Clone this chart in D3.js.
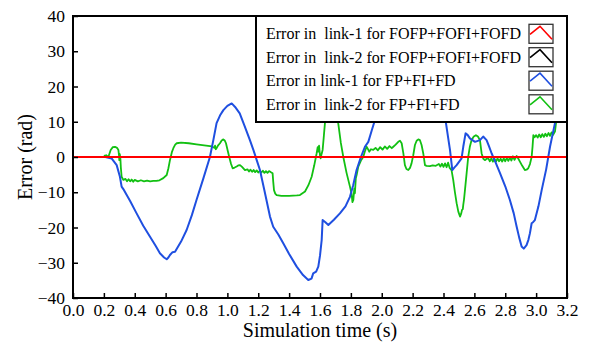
<!DOCTYPE html>
<html>
<head>
<meta charset="utf-8">
<script src="https://cdn.jsdelivr.net/npm/d3@7"></script>
<style>
  html, body { margin: 0; padding: 0; background: #fff; }
  svg text { font-family: "Liberation Serif", Tinos, "Times New Roman", Times, "DejaVu Serif", serif; }
</style>
</head>
<body>
<svg id="chart" width="592" height="347"></svg>
<script>
// Axis ticks
const xTicks = [0.0, 0.2, 0.4, 0.6, 0.8, 1.0, 1.2, 1.4, 1.6, 1.8, 2.0, 2.2, 2.4, 2.6, 2.8, 3.0, 3.2];
const yTicks = [-40, -30, -20, -10, 0, 10, 20, 30, 40];

// Legend entries
const seriesNames = [
  "Error in  link-1 for FOFP+FOFI+FOFD",
  "Error in  link-2 for FOFP+FOFI+FOFD",
  "Error in link-1 for FP+FI+FD",
  "Error in  link-2 for FP+FI+FD"
];
const seriesColors = ["#ff0000", "#000000", "#1f4fe0", "#12c012"];

// FOFP+FOFI+FOFD errors (both links stay on zero)
const fofTime = [0.0, 0.4, 0.8, 1.2, 1.6, 2.0, 2.4, 2.8, 3.2];
const fofLink1Err = [0, 0, 0, 0, 0, 0, 0, 0, 0];
const fofLink2Err = [0, 0, 0, 0, 0, 0, 0, 0, 0];

// FP+FI+FD, link-1
const fpLink1Time = [0.21, 0.25, 0.283, 0.304, 0.315, 0.326, 0.37, 0.412, 0.455, 0.499, 0.535, 0.563, 0.59, 0.607, 0.618, 0.628, 0.645, 0.661, 0.70, 0.736, 0.77, 0.80, 0.845, 0.887, 0.91, 0.93, 0.955, 0.974, 1.0, 1.028, 1.05, 1.08, 1.11, 1.146, 1.17, 1.19, 1.211, 1.24, 1.276, 1.297, 1.33, 1.362, 1.40, 1.449, 1.49, 1.524, 1.545, 1.556, 1.575, 1.589, 1.60, 1.611, 1.617, 1.635, 1.654, 1.69, 1.729, 1.765, 1.794, 1.815, 1.837, 1.865, 1.891, 1.913, 1.935, 1.956, 1.98, 2.05, 2.15, 2.25, 2.35, 2.40, 2.416, 2.43, 2.442, 2.457, 2.47, 2.485, 2.517, 2.528, 2.543, 2.557, 2.571, 2.604, 2.636, 2.657, 2.679, 2.695, 2.712, 2.74, 2.766, 2.80, 2.83, 2.855, 2.874, 2.89, 2.906, 2.92, 2.938, 2.95, 2.96, 2.971, 2.98, 2.992, 3.015, 3.036, 3.065, 3.09, 3.122, 3.15];
const fpLink1Err = [0, -0.4, -2.3, -5.6, -8.4, -9.1, -12.5, -16, -19.5, -22.6, -25.2, -27.3, -28.5, -29, -28.5, -27.8, -27, -26.9, -24, -20.7, -16.5, -12.2, -6, 0, 5, 9.6, 12, 13.3, 14.5, 15.2, 14.2, 12.4, 9, 4.8, 1.8, -0.9, -3.7, -9.5, -16.9, -19.8, -22, -24.5, -27.5, -31.1, -33.5, -34.9, -34.5, -33, -32.5, -31.1, -28, -23.5, -17.9, -18.5, -19.3, -17.8, -16, -14, -11.3, -8, -3.7, 0, 2.9, 4.3, 7.5, 10.5, 15, 26, 33, 32, 22, 13, 9.6, 5.5, 2, -3.7, -3, -2.3, -0.4, 2.9, 6.7, 6.2, 5.3, 4.3, 4.8, 5.8, 4.8, 3, 1, -1.8, -4.6, -8.3, -12.2, -16, -19.8, -22.8, -25.4, -26, -25, -23.5, -21.6, -18.8, -18.5, -17.9, -14, -9.4, -3.5, 2.9, 9.6, 16];

// FP+FI+FD, link-2
const fpLink2Time = [0.20, 0.215, 0.229, 0.244, 0.258, 0.272, 0.285, 0.294, 0.298, 0.30, 0.303, 0.307, 0.31, 0.315, 0.326, 0.34, 0.35, 0.36, 0.37, 0.38, 0.39, 0.40, 0.42, 0.44, 0.46, 0.48, 0.50, 0.52, 0.54, 0.56, 0.585, 0.607, 0.618, 0.628, 0.64, 0.65, 0.662, 0.672, 0.70, 0.75, 0.80, 0.85, 0.90, 0.915, 0.92, 0.925, 0.93, 0.94, 0.952, 0.963, 0.974, 0.984, 0.991, 1.0, 1.012, 1.024, 1.034, 1.047, 1.06, 1.07, 1.082, 1.095, 1.114, 1.13, 1.14, 1.15, 1.16, 1.17, 1.18, 1.19, 1.20, 1.21, 1.22, 1.23, 1.24, 1.25, 1.26, 1.27, 1.285, 1.293, 1.297, 1.302, 1.31, 1.319, 1.35, 1.40, 1.45, 1.47, 1.503, 1.525, 1.546, 1.562, 1.578, 1.585, 1.589, 1.594, 1.60, 1.604, 1.61, 1.617, 1.625, 1.632, 1.645, 1.66, 1.68, 1.70, 1.718, 1.735, 1.751, 1.772, 1.794, 1.805, 1.81, 1.816, 1.822, 1.826, 1.832, 1.838, 1.848, 1.865, 1.88, 1.89, 1.902, 1.91, 1.919, 1.93, 1.945, 1.96, 1.975, 1.99, 2.005, 2.02, 2.035, 2.05, 2.065, 2.075, 2.09, 2.107, 2.118, 2.129, 2.14, 2.15, 2.16, 2.172, 2.183, 2.193, 2.204, 2.215, 2.226, 2.237, 2.247, 2.258, 2.269, 2.28, 2.29, 2.312, 2.33, 2.35, 2.37, 2.38, 2.39, 2.40, 2.41, 2.42, 2.43, 2.44, 2.452, 2.463, 2.474, 2.485, 2.496, 2.507, 2.515, 2.52, 2.525, 2.528, 2.533, 2.539, 2.55, 2.56, 2.571, 2.582, 2.596, 2.61, 2.623, 2.636, 2.647, 2.658, 2.668, 2.68, 2.69, 2.70, 2.71, 2.72, 2.73, 2.74, 2.75, 2.76, 2.77, 2.78, 2.79, 2.80, 2.81, 2.82, 2.83, 2.84, 2.85, 2.86, 2.874, 2.885, 2.895, 2.91, 2.927, 2.938, 2.949, 2.96, 2.971, 2.977, 2.982, 2.99, 3.0, 3.01, 3.02, 3.03, 3.04, 3.05, 3.06, 3.07, 3.08, 3.09, 3.10, 3.11, 3.122, 3.13, 3.14];
const fpLink2Err = [0.3, 0.5, 0, 2, 2.8, 2.9, 2.6, 2, 0.5, -0.9, 0.8, -0.5, -3, -5.6, -6.5, -6.2, -6.9, -6.3, -6.9, -6.4, -7.0, -6.5, -6.9, -6.6, -6.9, -6.7, -6.9, -6.8, -6.8, -6.6, -6, -5.1, -3.2, -0.9, 1.3, 2.5, 3.5, 3.9, 4.1, 3.9, 3.6, 3.3, 3.0, 2.6, 3.2, 2.2, 2.5, 3.3, 3.9, 4.7, 5, 4.6, 3.9, 2.2, 0, -2, -3.2, -3.0, -2.7, -2.4, -2.3, -2.8, -3.7, -3.5, -4.1, -3.6, -4.2, -3.7, -4.3, -3.8, -4.4, -3.9, -4.4, -3.9, -4.5, -4.0, -4.5, -4.0, -4.4, -4.6, -7, -9.4, -10.4, -10.8, -11.0, -11.0, -10.9, -10.8, -9.8, -8, -5.6, -2.5, 1, 2.8, 1.5, 3.2, 0.5, -0.4, 0.8, 2, 6, 9.6, 16, 20, 21, 17, 9.6, 4, 0, -4.5, -8.4, -10.5, -12.8, -12.2, -9, -10.3, -6, -5, -2.7, -1, 0, 1.5, 2.9, 2.3, 1.5, 2.2, 2, 2.6, 1.9, 2.8, 2.1, 3.0, 2.3, 3.1, 2.5, 2.9, 3.5, 4.3, 4.6, 3.9, 1, -2.3, -3.4, -3.7, -3.1, -1.8, 0.5, 3.4, 4.6, 5, 4.8, 3.4, 1, -2.3, -2.5, -2.6, -2.4, -2.5, -2.0, -2.7, -1.9, -2.8, -1.8, -2.9, -1.6, -3.1, -3.7, -6.5, -10, -13.1, -15.5, -16.9, -16, -15, -14.8, -13.6, -12, -9.4, -4.5, 0, 3, 4.8, 5.8, 6.2, 5.8, 4.8, 1, -0.5, -0.9, -0.5, -0.4, -1.2, -0.4, -1.3, -0.5, -1.3, -0.4, -1.2, -0.5, -1.3, -0.4, -1.2, -0.3, -1.1, -0.2, -1.0, 0.2, -0.8, 0.3, -0.5, -1.3, -2.5, -3.7, -3.6, -3.2, -2, 0, 3, 6.2, 5.6, 6.2, 5.5, 6.4, 5.6, 6.5, 5.7, 6.6, 5.9, 6.8, 6.0, 7.0, 6.3, 7.2, 10, 14];

const serifStack = "'Liberation Serif', Tinos, 'Times New Roman', Times, 'DejaVu Serif', serif";

const svg = d3.select("#chart");
const margin = { left: 73, top: 16, right: 25, bottom: 49 };
const W = 592, H = 347;
const plotW = W - margin.left - margin.right;
const plotH = H - margin.top - margin.bottom;

const x = d3.scaleLinear().domain([0, 3.2]).range([margin.left, margin.left + plotW]);
const y = d3.scaleLinear().domain([-40, 40]).range([margin.top + plotH, margin.top]);

svg.append("defs").append("clipPath").attr("id", "plotClip")
  .append("rect")
  .attr("x", margin.left).attr("y", margin.top)
  .attr("width", plotW).attr("height", plotH);

const zip = (ts, vs) => ts.map((t, i) => [t, vs[i]]);
const line = d3.line().x(d => x(d[0])).y(d => y(d[1]));

const series = [
  { data: zip(fpLink2Time, fpLink2Err), color: seriesColors[3], width: 1.8 },
  { data: zip(fpLink1Time, fpLink1Err), color: seriesColors[2], width: 2 },
  { data: zip(fofTime, fofLink2Err), color: seriesColors[1], width: 2.2 },
  { data: zip(fofTime, fofLink1Err), color: seriesColors[0], width: 2.2 }
];

const lines = svg.append("g").attr("clip-path", "url(#plotClip)");
series.forEach(s => {
  lines.append("path")
    .datum(s.data)
    .attr("fill", "none")
    .attr("stroke", s.color)
    .attr("stroke-width", s.width)
    .attr("stroke-linejoin", "round")
    .attr("d", line);
});

// Axes with inward ticks
const xAxis = svg.append("g")
  .attr("transform", `translate(0,${margin.top + plotH})`)
  .call(d3.axisBottom(x).tickValues(xTicks).tickFormat(d3.format(".1f")).tickSize(-5).tickPadding(6));
const yAxis = svg.append("g")
  .attr("transform", `translate(${margin.left},0)`)
  .call(d3.axisLeft(y).tickValues(yTicks).tickSize(-5).tickPadding(8));

[xAxis, yAxis].forEach(g => {
  g.attr("font-family", null);
  g.select(".domain").remove();
  g.selectAll(".tick line").attr("stroke", "#000").attr("stroke-width", 1.5);
  g.selectAll(".tick text")
    .style("font-family", serifStack)
    .attr("font-size", 17.5)
    .attr("fill", "#000");
});

// Plot frame
svg.append("rect")
  .attr("x", margin.left).attr("y", margin.top)
  .attr("width", plotW).attr("height", plotH)
  .attr("fill", "none").attr("stroke", "#000").attr("stroke-width", 2);

// Axis titles
svg.append("text")
  .attr("x", margin.left + plotW / 2).attr("y", 337)
  .attr("text-anchor", "middle")
  .style("font-family", serifStack)
  .attr("font-size", 20)
  .text("Simulation time (s)");
svg.append("text")
  .attr("transform", `translate(32,${margin.top + plotH / 2}) rotate(-90)`)
  .attr("text-anchor", "middle")
  .style("font-family", serifStack)
  .attr("font-size", 20)
  .text("Error (rad)");

// Legend
const legX = 256, legRight = margin.left + plotW, legTop = margin.top, legBottom = 122;
const legend = svg.append("g");
legend.append("rect")
  .attr("x", legX).attr("y", legTop)
  .attr("width", legRight - legX).attr("height", legBottom - legTop)
  .attr("fill", "#fff").attr("stroke", "#000").attr("stroke-width", 2);

const rowBase = [39.3, 62.7, 86.2, 109.8];
seriesNames.forEach((name, i) => {
  legend.append("text")
    .attr("x", 266).attr("y", rowBase[i])
    .style("font-family", serifStack)
    .attr("font-size", 16)
    .style("white-space", "pre")
    .text(name);
  const bx = 529, by = rowBase[i] - 15, bw = 24, bh = 19;
  legend.append("rect")
    .attr("x", bx).attr("y", by).attr("width", bw).attr("height", bh)
    .attr("fill", "#fff").attr("stroke", "#333").attr("stroke-width", 1.3);
  legend.append("path")
    .attr("d", `M${bx + 1},${by + 10} L${bx + 11},${by + 2} L${bx + bw - 1},${by + 15}`)
    .attr("fill", "none").attr("stroke", seriesColors[i]).attr("stroke-width", 1.6);
});
</script>
</body>
</html>
